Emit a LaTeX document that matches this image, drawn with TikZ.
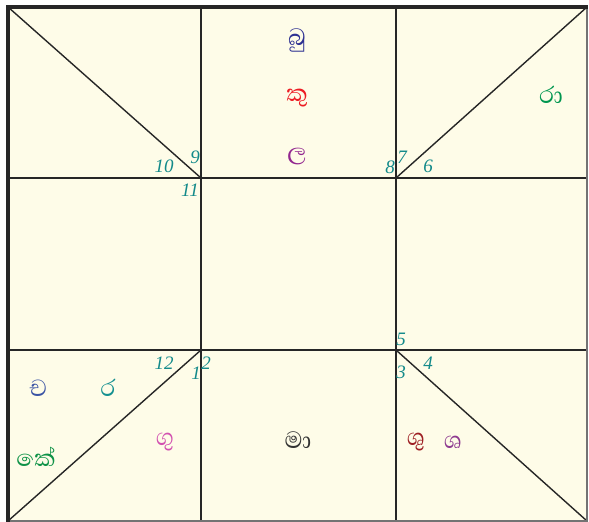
\documentclass[tikz,border=0pt]{standalone}
\usepackage{fontspec}
\newfontfamily\sinhfont[Script=Sinhala]{Abhaya Libre}
\newfontfamily\numfont{Liberation Serif}
\definecolor{cream}{HTML}{FEFCE8}
\definecolor{numc}{HTML}{138A8A}
\definecolor{cBu}{HTML}{2E3192}
\definecolor{cKu}{HTML}{ED1C24}
\definecolor{cLa}{HTML}{92278F}
\definecolor{cRa}{HTML}{00964F}
\definecolor{cCa}{HTML}{3A53A4}
\definecolor{cR}{HTML}{149090}
\definecolor{cKe}{HTML}{0E9247}
\definecolor{cGu}{HTML}{D250B0}
\definecolor{cMa}{HTML}{333333}
\definecolor{cSu}{HTML}{9E1F24}
\definecolor{cSa}{HTML}{8E3A90}
\tikzset{
  grid line/.style={line width=1.4pt, draw=black!85},
  num/.style={font=\fontsize{19}{19}\selectfont\numfont\itshape, text=numc, inner sep=0pt},
  pl/.style={font=\fontsize{30}{30}\selectfont\sinhfont, inner sep=0pt},
}
\begin{document}
\begin{tikzpicture}[x=1pt,y=-1pt]
\useasboundingbox (0,0) rectangle (589,522);
\fill[white] (0,0) rectangle (589,522);
% frame corners
\coordinate (TL) at (8,7);
\coordinate (TR) at (587,7);
\coordinate (BL) at (8,521);
\coordinate (BR) at (587,521);
\coordinate (A) at (201,178);
\coordinate (B) at (396,178);
\coordinate (C) at (201,350);
\coordinate (D) at (396,350);
\fill[cream] (TL) rectangle (BR);
% grid
\draw[grid line] (201,7) -- (201,521);
\draw[grid line] (396,7) -- (396,521);
\draw[grid line] (8,178) -- (587,178);
\draw[grid line] (8,350) -- (587,350);
% diagonals
\draw[grid line] (TL) -- (A);
\draw[grid line] (TR) -- (B);
\draw[grid line] (BL) -- (C);
\draw[grid line] (BR) -- (D);
% frame
\draw[line width=1.2pt, draw=black!55] (TR) -- (BR) -- (BL);
\draw[line width=3.5pt, draw=black!85] (8,522) -- (TL) -- (588,7);
% numbers
\node[num] (n10) at (164,166) {10};
\node[num] (n9) at (195,157) {9};
\node[num] (n11) at (190,190) {11};
\node[num] (n8) at (390,167) {8};
\node[num] (n7) at (402,157) {7};
\node[num] (n6) at (428,166) {6};
\node[num] (n12) at (164,363) {12};
\node[num] (n1) at (196,373) {1};
\node[num] (n2) at (206,363) {2};
\node[num] (n5) at (401,339) {5};
\node[num] (n3) at (401,372) {3};
\node[num] (n4) at (428,363) {4};
% planets
\node[pl, text=cBu] (bu) at (297,40) {බු};
\node[pl, text=cKu] (ku) at (297,98) {කු};
\node[pl, text=cLa] (la) at (297,157) {ල};
\node[pl, text=cRa] (ra) at (551,95) {රා};
\node[pl, text=cCa] (ca) at (38,388) {ච};
\node[pl, text=cR] (r) at (108,388) {ර};
\node[pl, text=cKe] (ke) at (36,457) {කේ};
\node[pl, text=cGu] (gu) at (165,442) {ගු};
\node[pl, text=cMa] (ma) at (298,440) {මා};
\node[pl, text=cSu] (su) at (416,442) {ශු};
\node[pl, text=cSa] (sa) at (453,442) {ශ};
\end{tikzpicture}
\end{document}
